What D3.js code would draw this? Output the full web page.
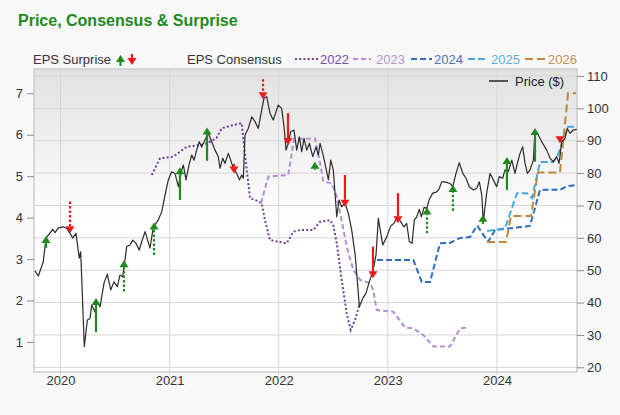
<!DOCTYPE html>
<meta charset="utf-8">
<body style="margin:0;background:#f8f8f8">

<script src="https://d3js.org/d3.v7.min.js"></script>

<script>

// ---- data (dates as decimal years) ----
var priceDates = [2019.766,2019.797,2019.842,2019.867,2019.904,2019.929,2019.950,2019.980,2020.026,2020.057,
  2020.087,2020.112,2020.142,2020.172,2020.185,2020.218,2020.246,2020.270,2020.286,2020.316,
  2020.337,2020.362,2020.399,2020.429,2020.460,2020.490,2020.521,2020.545,2020.570,2020.591,
  2020.607,2020.637,2020.662,2020.692,2020.722,2020.744,2020.775,2020.820,2020.851,2020.896,
  2020.928,2020.958,2020.988,2021.019,2021.049,2021.080,2021.111,2021.126,2021.150,2021.181,
  2021.203,2021.224,2021.248,2021.272,2021.294,2021.324,2021.355,2021.386,2021.416,2021.446,
  2021.462,2021.487,2021.508,2021.538,2021.560,2021.584,2021.615,2021.639,2021.661,2021.676,
  2021.691,2021.721,2021.753,2021.783,2021.813,2021.844,2021.865,2021.890,2021.920,2021.950,
  2021.996,2022.027,2022.049,2022.067,2022.088,2022.110,2022.140,2022.165,2022.189,2022.211,
  2022.232,2022.257,2022.281,2022.312,2022.342,2022.363,2022.379,2022.403,2022.424,2022.455,
  2022.477,2022.500,2022.532,2022.553,2022.577,2022.608,2022.638,2022.669,2022.699,2022.720,
  2022.739,2022.770,2022.800,2022.830,2022.862,2022.892,2022.913,2022.953,2022.990,2023.027,
  2023.057,2023.087,2023.118,2023.148,2023.173,2023.197,2023.222,2023.243,2023.265,2023.289,
  2023.307,2023.332,2023.357,2023.380,2023.412,2023.448,2023.472,2023.494,2023.524,2023.570,
  2023.595,2023.625,2023.655,2023.687,2023.717,2023.747,2023.784,2023.815,2023.839,2023.861,
  2023.875,2023.906,2023.937,2023.967,2023.998,2024.022,2024.053,2024.074,2024.104,2024.136,
  2024.166,2024.187,2024.212,2024.236,2024.258,2024.279,2024.303,2024.334,2024.349,2024.379,
  2024.411,2024.456,2024.487,2024.517,2024.548,2024.569,2024.594,2024.624,2024.645,2024.670,
  2024.700,2024.731];
var priceValues = [49.8,48.2,52.6,59.9,61.5,62.6,61.6,63.1,63.4,62.9,
  61.4,59.9,61.4,53.7,55.7,26.4,34.6,35.1,39.2,37.2,
  40.3,38.7,46.0,48.8,43.9,46.4,44.9,48.5,48.0,53.1,
  57.3,57.8,59.3,58.3,56.2,58.8,61.9,56.8,63.4,65.5,
  68.1,73.2,77.9,80.4,79.9,75.8,81.0,82.5,77.9,83.0,
  85.6,84.0,87.1,89.7,88.1,90.2,92.3,89.7,87.1,85.1,
  81.5,84.6,83.0,86.1,84.0,81.5,79.9,77.9,79.4,78.4,
  91.8,93.8,97.4,95.9,93.8,99.5,103.1,103.6,98.5,96.4,
  101.0,100.0,94.3,87.1,89.2,92.8,93.3,87.1,91.2,86.6,
  90.7,87.1,89.2,85.1,88.1,85.6,89.2,86.1,83.0,77.9,
  84.0,81.0,66.5,71.7,69.6,70.7,67.6,62.4,55.2,47.0,
  38.7,41.3,42.9,46.4,49.5,54.7,66.0,57.8,60.3,63.7,
  64.5,66.5,65.0,63.4,64.5,58.8,58.3,65.5,66.5,68.8,
  66.5,69.4,69.1,71.9,73.8,74.2,75.3,77.3,77.3,76.8,
  75.8,79.9,83.2,79.9,78.4,75.8,74.8,75.3,77.3,73.2,
  65.0,73.8,79.9,77.9,75.8,78.9,78.4,81.0,80.4,84.0,
  79.9,83.0,86.1,88.1,83.0,79.9,81.0,84.0,92.8,91.8,
  89.7,87.1,84.6,83.5,85.1,83.0,89.7,90.7,93.8,92.3,
  93.3,93.5];

// EPS consensus by fiscal year
var cons2022Dates = [2020.836,2020.912,2021.034,2021.095,2021.157,2021.279,2021.340,2021.430,2021.478,2021.661,
  2021.676,2021.707,2021.737,2021.798,2021.844,2021.874,2021.920,2022.012,2022.073,2022.134,
  2022.195,2022.317,2022.379,2022.470,2022.500,2022.532,2022.577,2022.623,2022.660,2022.699,2022.745];
var cons2022Values = [5.03,5.43,5.47,5.59,5.71,5.75,5.79,5.92,6.16,6.28,
  5.87,5.15,4.47,4.41,4.35,3.94,3.46,3.41,3.38,3.66,
  3.70,3.70,3.90,3.94,3.82,3.38,2.50,1.69,1.29,1.53,1.94];

var cons2023Dates = [2021.838,2021.905,2022.088,2022.140,2022.333,2022.379,2022.409,2022.486,2022.532,2022.577,
  2022.623,2022.684,2022.745,2022.837,2022.867,2022.898,2023.050,2023.158,2023.234,2023.325,
  2023.417,2023.570,2023.662,2023.738];
var cons2023Values = [4.35,4.99,5.03,5.90,5.91,5.31,4.87,4.83,4.51,3.94,
  3.30,2.74,2.50,2.42,2.25,1.77,1.73,1.35,1.33,1.17,
  0.89,0.89,1.33,1.35];

var cons2024Dates = [2022.901,2023.234,2023.311,2023.387,2023.478,2023.570,2023.662,2023.754,2023.818,2023.919,
  2023.983,2024.303,2024.395,2024.578,2024.643,2024.734];
var cons2024Values = [2.98,2.98,2.45,2.45,3.38,3.39,3.51,3.53,3.81,3.42,
  3.70,3.80,4.67,4.67,4.76,4.79];

var cons2025Dates = [2023.909,2024.074,2024.184,2024.276,2024.322,2024.395,2024.514,2024.551,2024.609,2024.652,2024.734];
var cons2025Values = [3.68,3.74,4.59,4.59,4.47,5.34,5.34,5.46,5.87,6.19,6.19];

var cons2026Dates = [2023.909,2024.083,2024.129,2024.312,2024.376,2024.578,2024.652,2024.725];
var cons2026Values = [3.41,3.41,4.04,4.04,5.09,5.09,7.00,7.00];

// EPS surprise arrows, drawn against the price ($) scale
var surpriseDates = [2019.867,2020.087,2020.325,2020.582,2020.857,2021.095,2021.343,2021.590,2021.856,2022.085,
  2022.332,2022.607,2022.864,2023.093,2023.359,2023.597,2023.872,2024.092,2024.349,2024.578];
var surpriseFrom = [56.9,71.2,30.9,43.4,54.7,71.7,83.8,82.8,109.0,98.5,
  81.0,79.4,57.3,73.8,61.4,68.4,64.3,74.8,83.5,91.2];
var surpriseTo = [60.6,61.4,41.4,53.1,64.7,81.8,94.1,79.9,102.8,88.7,
  83.5,69.6,47.5,64.5,69.4,76.3,67.1,85.0,93.9,89.2];
var surpriseConfirmed = [1,0,1,0,0,1,1,1,0,1,0,1,1,1,0,0,1,1,1,1];

var yearTicks = [2020, 2021, 2022, 2023, 2024];
var priceTicks = [20, 30, 40, 50, 60, 70, 80, 90, 100, 110];
var epsTicks = [1, 2, 3, 4, 5, 6, 7];
var seriesNames = ["2022", "2023", "2024", "2025", "2026"];

// ---- layout ----
var width = 620, height = 415;
var margin = {top: 69, right: 43, bottom: 43, left: 34};
var w = width - margin.left - margin.right,
    h = height - margin.top - margin.bottom;

var green = "#1f8a1f", red = "#f01818";
var styles = {
  "2022": {color: "#6c3f9c", text: "#7a4fa2", dash: "2,2.2"},
  "2023": {color: "#b48fcf", text: "#b696cc", dash: "5,3"},
  "2024": {color: "#2f6dbd", text: "#4676b8", dash: "6,3"},
  "2025": {color: "#45a9e0", text: "#62aedb", dash: "7,3"},
  "2026": {color: "#c0873a", text: "#bf9157", dash: "8,4"}
};
var font = "'Liberation Sans', Arial, Helvetica, sans-serif";

var svg = d3.select("body").append("svg")
    .attr("width", width)
    .attr("height", height)
    .style("display", "block")
    .style("font-family", font);

svg.append("rect").attr("width", width).attr("height", height).attr("fill", "#f8f8f8");

var grad = svg.append("defs").append("linearGradient")
    .attr("id", "plotbg").attr("x1", 0).attr("y1", 0).attr("x2", 0).attr("y2", 1);
grad.append("stop").attr("offset", "0%").attr("stop-color", "#e1e1e1");
grad.append("stop").attr("offset", "50%").attr("stop-color", "#ffffff");
grad.append("stop").attr("offset", "100%").attr("stop-color", "#ffffff");

// title
svg.append("text")
    .attr("x", 18).attr("y", 26)
    .attr("fill", "#1f8a24")
    .style("font-size", "16px")
    .style("font-weight", "bold")
    .text("Price, Consensus & Surprise");

var g = svg.append("g")
    .attr("transform", "translate(" + margin.left + "," + margin.top + ")");

var x = d3.scaleLinear().domain([2019.757, 2024.734]).range([0, w]);
var yP = d3.scaleLinear().domain([18.55, 112.16]).range([h, 0]);
var yE = d3.scaleLinear().domain([0.276, 7.586]).range([h, 0]);

g.append("rect").attr("width", w).attr("height", h).attr("fill", "url(#plotbg)");

// gridlines
g.selectAll(".hgrid").data(priceTicks).enter().append("line")
    .attr("x1", 0).attr("x2", w)
    .attr("y1", function(d) { return yP(d); })
    .attr("y2", function(d) { return yP(d); })
    .attr("stroke", "#d6d6d6").attr("stroke-width", 1);
g.selectAll(".vgrid").data(yearTicks).enter().append("line")
    .attr("x1", function(d) { return x(d); })
    .attr("x2", function(d) { return x(d); })
    .attr("y1", 0).attr("y2", h + 3)
    .attr("stroke", "#d6d6d6").attr("stroke-width", 1);

g.append("rect").attr("width", w).attr("height", h)
    .attr("fill", "none").attr("stroke", "#cdcdcd").attr("stroke-width", 1.5);

// axes
function styleAxis(sel) {
  sel.select(".domain").remove();
  sel.selectAll("line").attr("stroke", "#8c8c8c");
  sel.selectAll("text").attr("fill", "#333").style("font-size", "13px").style("font-family", font);
}
g.append("g")
    .attr("transform", "translate(" + w + ",0)")
    .call(d3.axisRight(yP).tickValues(priceTicks).tickSize(7).tickPadding(3))
    .call(styleAxis);
g.append("g")
    .call(d3.axisLeft(yE).tickValues(epsTicks).tickSize(7).tickPadding(4))
    .call(styleAxis);
g.append("g")
    .attr("transform", "translate(0," + h + ")")
    .call(d3.axisBottom(x).tickValues(yearTicks).tickFormat(d3.format("d")).tickSize(0).tickPadding(4))
    .call(styleAxis);

// consensus lines
var consData = {
  "2022": d3.zip(cons2022Dates, cons2022Values),
  "2023": d3.zip(cons2023Dates, cons2023Values),
  "2024": d3.zip(cons2024Dates, cons2024Values),
  "2025": d3.zip(cons2025Dates, cons2025Values),
  "2026": d3.zip(cons2026Dates, cons2026Values)
};
var epsLine = d3.line()
    .x(function(d) { return x(d[0]); })
    .y(function(d) { return yE(d[1]); });

seriesNames.forEach(function(name) {
  g.append("path")
      .datum(consData[name])
      .attr("fill", "none")
      .attr("stroke", styles[name].color)
      .attr("stroke-width", 2)
      .attr("stroke-dasharray", styles[name].dash)
      .attr("d", epsLine);
});

// price line
var priceLine = d3.line()
    .x(function(d) { return x(d[0]); })
    .y(function(d) { return yP(d[1]); });
g.append("path")
    .datum(d3.zip(priceDates, priceValues))
    .attr("fill", "none")
    .attr("stroke", "#2b2b2b")
    .attr("stroke-width", 1.2)
    .attr("stroke-linejoin", "round")
    .attr("d", priceLine);

// surprise arrows
function drawArrow(parent, px, y0, y1, color, dotted) {
  var dir = y1 < y0 ? -1 : 1; // -1 up, +1 down
  var headLen = 7, headHalf = 4.5;
  var baseY = y1 - dir * headLen;
  if ((baseY - y0) * dir > 0) {
    parent.append("line")
        .attr("x1", px).attr("x2", px)
        .attr("y1", y0).attr("y2", baseY)
        .attr("stroke", color)
        .attr("stroke-width", 2.2)
        .attr("stroke-dasharray", dotted ? "2.5,2" : null);
  }
  parent.append("path")
      .attr("d", "M" + (px - headHalf) + "," + baseY + "L" + (px + headHalf) + "," + baseY + "L" + px + "," + y1 + "Z")
      .attr("fill", color);
}

surpriseDates.forEach(function(d, i) {
  var up = surpriseTo[i] > surpriseFrom[i];
  drawArrow(g, x(d), yP(surpriseFrom[i]), yP(surpriseTo[i]), up ? green : red, !surpriseConfirmed[i]);
});

// legend
var legY = 64;
svg.append("text").attr("x", 33).attr("y", legY).attr("fill", "#333")
    .style("font-size", "13px").text("EPS Surprise");
drawArrow(svg, 120.5, 66, 55, green, false);
drawArrow(svg, 132, 54, 65, red, false);

svg.append("text").attr("x", 187).attr("y", legY).attr("fill", "#333")
    .style("font-size", "13px").text("EPS Consensus");

var legPos = {"2022": [295, 318, 320], "2023": [353, 371, 376], "2024": [411, 432, 434],
              "2025": [468, 488, 491], "2026": [525, 545, 548]};
seriesNames.forEach(function(name) {
  var p = legPos[name];
  svg.append("line")
      .attr("x1", p[0]).attr("x2", p[1]).attr("y1", legY - 5).attr("y2", legY - 5)
      .attr("stroke", styles[name].color).attr("stroke-width", 2)
      .attr("stroke-dasharray", styles[name].dash);
  svg.append("text").attr("x", p[2]).attr("y", legY).attr("fill", styles[name].text)
      .style("font-size", "13px").text(name);
});

svg.append("line").attr("x1", 489).attr("x2", 508).attr("y1", 81).attr("y2", 81)
    .attr("stroke", "#555").attr("stroke-width", 2);
svg.append("text").attr("x", 515).attr("y", 86).attr("fill", "#222")
    .style("font-size", "13px").text("Price ($)");

</script>
</body>
</html>
